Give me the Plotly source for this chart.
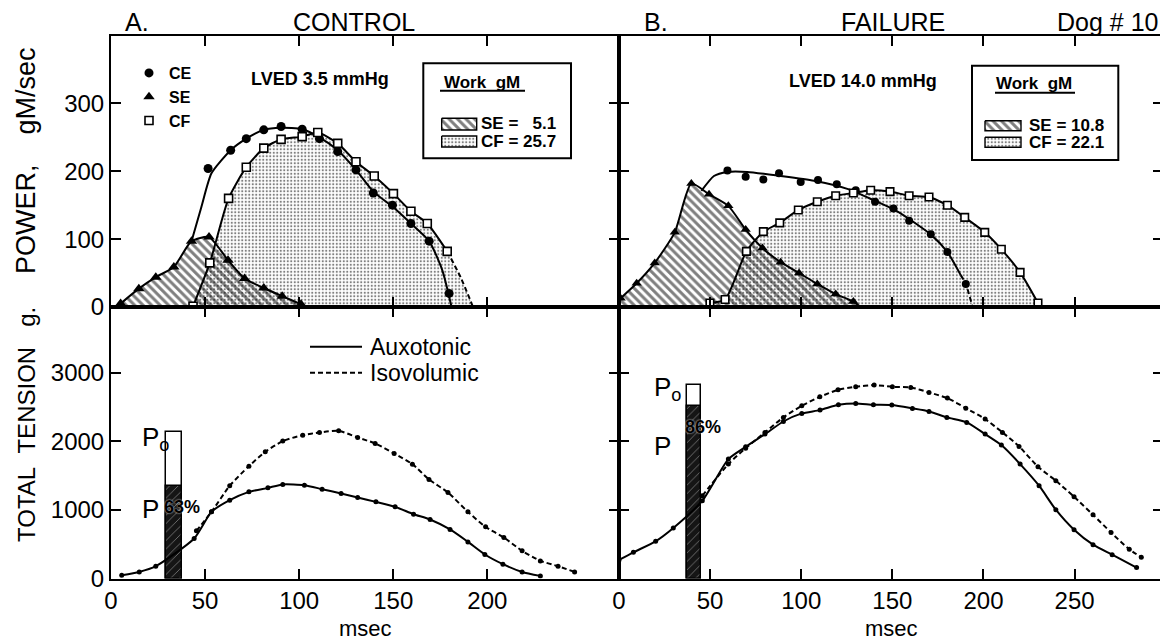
import plotly.graph_objects as go

# The page adds an 8 px body margin, so the figure is drawn 8 px smaller and all
# reference-pixel positions are shifted by that offset.
OFF = 8
W, H = 1168 - OFF, 642 - OFF
FONT = "Liberation Sans, Arial, sans-serif"

# ------------------------------------------------------------------ data
# A. CONTROL - power (gM/sec) vs time (msec)
ce_a_t = [51.6, 63.6, 71.9, 81.2, 90.4, 101.6, 110.8, 120.5, 130.2, 139.4, 149.6, 159.4, 169.1, 179.7]
ce_a_p = [204, 231, 248, 261, 266, 262, 248, 229, 202, 168, 150, 123, 97, 20]
ce_a_curve_t = [42.8, 48.0, 53.4, 63.6, 71.9, 81.2, 90.4, 101.6, 110.8, 120.5, 130.2, 139.4, 149.6, 159.4, 169.1, 176.1, 181.0]
ce_a_curve_p = [97, 147, 197, 231, 248, 261, 264, 262, 250, 231, 202, 170, 148, 123, 97, 54, 0]
se_a_t = [5.1, 14.8, 23.8, 33.4, 42.8, 52.1, 62.2, 71.0, 81.2, 91.0, 101.0]
se_a_p = [5, 27, 44, 59, 97, 103, 69, 42, 28, 16, 4]
cf_a_t = [43.6, 52.5, 62.5, 71.9, 81.2, 90.4, 101.6, 109.9, 120.5, 130.2, 139.9, 150.1, 159.4, 168.1, 178.7]
cf_a_p = [1, 65, 160, 206, 234, 247, 251, 257, 241, 214, 193, 167, 141, 123, 82]
cf_a_tail_t = [178.7, 185.8, 192.4]
cf_a_tail_p = [82, 44, 0]

# B. FAILURE - power (gM/sec) vs time (msec)
ce_b_t = [59.5, 69.5, 79.2, 87.8, 99.7, 109.2, 119.5, 129.9, 140.5, 150.6, 159.2, 171.1, 180.2, 190.3]
ce_b_p = [201, 192, 188, 197, 184, 187, 181, 172, 155, 145, 127, 107, 81, 34]
ce_b_curve_t = [45.2, 52.1, 59.5, 70.4, 88.7, 107.0, 125.3, 140.0, 152.7, 171.0, 180.2, 187.5]
ce_b_curve_p = [171, 193, 199, 199, 193, 186, 174, 157, 141, 107, 81, 47]
ce_b_tail_t = [187.5, 190.3, 194.0]
ce_b_tail_p = [47, 34, 0]
se_b_t = [0.9, 9.7, 19.6, 30.6, 39.7, 49.4, 60.0, 69.5, 78.7, 88.7, 98.8, 108.8, 118.9, 128.6, 132.6]
se_b_p = [13, 35, 65, 110, 182, 166, 149, 114, 87, 66, 50, 34, 19, 8, 0]
cf_b_t = [49.9, 58.2, 69.9, 79.2, 88.2, 98.4, 108.8, 118.9, 128.6, 138.1, 148.7, 159.2, 170.1, 180.2, 189.7, 200.7, 209.8, 220.1, 229.9]
cf_b_p = [6, 11, 82, 111, 124, 143, 155, 164, 168, 172, 170, 164, 162, 150, 132, 110, 85, 51, 6]

# work (gM) key values
work_a = {"SE": "5.1", "CF": "25.7"}
work_b = {"SE": "10.8", "CF": "22.1"}
lved_a = "LVED 3.5 mmHg"
lved_b = "LVED 14.0 mmHg"

# total tension (g) vs time (msec)
aux_a_t = [5.7, 15.0, 23.8, 44.2, 53.4, 63.1, 73.3, 83.4, 91.3, 102.8, 112.2, 122.3, 131.1, 140.8, 151.0,
           160.8, 169.6, 180.2, 189.7, 198.7, 208.3, 218.5, 228.2]
aux_a_f = [48, 96, 180, 584, 972, 1143, 1264, 1322, 1372, 1361, 1303, 1240, 1182, 1118, 1045,
           938, 861, 715, 534, 350, 209, 96, 38]
iso_a_t = [45.4, 53.4, 63.1, 73.3, 82.0, 91.3, 101.9, 110.8, 121.0, 131.1, 140.4, 150.5, 160.2, 169.0,
           179.1, 189.7, 199.1, 208.8, 218.5, 228.2, 237.6, 246.4]
iso_a_f = [695, 972, 1352, 1639, 1848, 2004, 2091, 2130, 2154, 2057, 1970, 1824, 1668, 1445,
           1255, 972, 753, 598, 403, 257, 180, 96]
aux_b_t = [0, 7.9, 20.1, 29.8, 45.7, 60.0, 69.5, 80.1, 90.2, 100.3, 110.3, 120.4, 129.9, 139.6, 149.7,
           161.0, 170.1, 179.9, 190.8, 200.9, 209.8, 220.1, 230.5, 239.7, 249.7, 260.1, 270.6, 284.0]
aux_b_f = [270, 382, 542, 736, 1134, 1742, 1921, 2106, 2290, 2408, 2456, 2534, 2554, 2534, 2529,
           2481, 2437, 2350, 2277, 2106, 1946, 1669, 1353, 1003, 711, 493, 347, 160]
iso_b_t = [45.7, 60.0, 69.5, 80.1, 90.2, 100.3, 110.2, 120.2, 129.9, 140.0, 150.0, 160.1, 170.1, 180.2,
           190.3, 200.9, 210.4, 219.5, 229.9, 239.7, 249.7, 260.1, 270.0, 280.0, 286.6]
iso_b_f = [1207, 1669, 1900, 2131, 2350, 2519, 2650, 2752, 2796, 2821, 2796, 2787, 2714, 2631,
           2485, 2325, 2131, 1927, 1630, 1426, 1192, 930, 670, 425, 309]

# Po / P bars
bar_a = {"t": 33.3, "Po": 2140, "P": 1347, "pct": "63%"}
bar_b = {"t": 41.2, "Po": 2820, "P": 2520, "pct": "86%"}

# ------------------------------------------------------------------ layout frames (reference pixels)
XA = (111, 619, 270.0)      # left px, right px, x range max
XB = (619, 1163, 298.5)
YT = (307, 35.5, 400.0)     # bottom px, top px, y range max
YBm = (578.5, 307, 3960.0)


def PX(px):
    return (px - OFF) / W


def PY(py):
    return 1 - (py - OFF) / H


def dom_x(f):
    return [PX(f[0]), PX(f[1])]


def dom_y(f):
    return [PY(f[0]), PY(f[1])]


def px2x(px, f):
    return (px - f[0]) / (f[1] - f[0]) * f[2]


def py2y(py, f):
    return (f[0] - py) / (f[0] - f[1]) * f[2]


fig = go.Figure()

SPL = dict(shape="spline", smoothing=0.6)
DOTS = dict(shape=".", fgcolor="black", bgcolor="rgba(0,0,0,0)", size=3.5, solidity=0.3)
HATCH = dict(shape="\\", fgcolor="black", bgcolor="rgba(0,0,0,0)", size=6, solidity=0.5)


def fill_trace(t, p, pat, xa, ya):
    fig.add_trace(go.Scatter(x=t, y=p, mode="lines", line=dict(width=0, **SPL), fill="tozeroy",
                             fillcolor="rgba(0,0,0,0)", fillpattern=pat, xaxis=xa, yaxis=ya,
                             showlegend=False, hoverinfo="skip"))


def line_trace(t, p, xa, ya, dash="solid", width=2):
    fig.add_trace(go.Scatter(x=t, y=p, mode="lines", line=dict(color="black", width=width, dash=dash, **SPL),
                             xaxis=xa, yaxis=ya, showlegend=False, hoverinfo="skip"))


def marker_trace(t, p, xa, ya, symbol, size, name=None, open_=False, legend=False):
    fig.add_trace(go.Scatter(x=t, y=p, mode="markers", name=name, xaxis=xa, yaxis=ya,
                             marker=dict(symbol=symbol, size=size,
                                         color="white" if open_ else "black",
                                         line=dict(color="black", width=1.6 if open_ else 0)),
                             showlegend=legend, legend="legend"))


# ---- panel A power
fill_trace(cf_a_t + cf_a_tail_t[1:], cf_a_p + cf_a_tail_p[1:], DOTS, "x", "y")
fill_trace(se_a_t, se_a_p, HATCH, "x", "y")
line_trace(ce_a_curve_t, ce_a_curve_p, "x", "y")
line_trace(se_a_t, se_a_p, "x", "y")
line_trace(cf_a_t, cf_a_p, "x", "y")
line_trace(cf_a_tail_t, cf_a_tail_p, "x", "y", dash="5px,3px")
marker_trace(ce_a_t, ce_a_p, "x", "y", "circle", 9, name="CE", legend=True)
marker_trace(se_a_t, se_a_p, "x", "y", "triangle-up", 10, name="SE", legend=True)
marker_trace(cf_a_t, cf_a_p, "x", "y", "square", 8, name="CF", open_=True, legend=True)

# ---- panel B power
fill_trace(cf_b_t, cf_b_p, DOTS, "x2", "y2")
fill_trace(se_b_t, se_b_p, HATCH, "x2", "y2")
line_trace(ce_b_curve_t, ce_b_curve_p, "x2", "y2")
line_trace(ce_b_tail_t, ce_b_tail_p, "x2", "y2", dash="5px,3px")
line_trace(se_b_t, se_b_p, "x2", "y2")
line_trace(cf_b_t, cf_b_p, "x2", "y2")
marker_trace(ce_b_t, ce_b_p, "x2", "y2", "circle", 8)
marker_trace(se_b_t[:-1], se_b_p[:-1], "x2", "y2", "triangle-up", 9)
marker_trace(cf_b_t, cf_b_p, "x2", "y2", "square", 7.5, open_=True)


# ---- work keys (legend swatches)
def swatch(px0, px1, py0, py1, pat, xa, ya, fx):
    xs = [px2x(v, fx) for v in (px0, px1, px1, px0, px0)]
    ys = [py2y(v, YT) for v in (py0, py0, py1, py1, py0)]
    fig.add_trace(go.Scatter(x=xs, y=ys, mode="lines", fill="toself", fillcolor="rgba(0,0,0,0)",
                             fillpattern=pat, line=dict(color="black", width=1.4), xaxis=xa, yaxis=ya,
                             showlegend=False, hoverinfo="skip"))


swatch(441.7, 476.7, 118.3, 130, HATCH, "x", "y", XA)
swatch(441.7, 476.7, 136, 147, DOTS, "x", "y", XA)
swatch(985, 1021, 120.7, 130.7, HATCH, "x2", "y2", XB)
swatch(985, 1021, 137.3, 147.3, DOTS, "x2", "y2", XB)


# ---- tension panels
def tension(t, f, xa, ya, dash):
    fig.add_trace(go.Scatter(x=t, y=f, mode="lines+markers", xaxis=xa, yaxis=ya,
                             line=dict(color="black", width=2, dash=dash, **SPL),
                             marker=dict(color="black", size=5), showlegend=False, hoverinfo="skip"))


DASH = "5px,3px"
tension(aux_a_t, aux_a_f, "x3", "y3", "solid")
tension(iso_a_t, iso_a_f, "x3", "y3", DASH)
tension(aux_b_t, aux_b_f, "x4", "y4", "solid")
tension(iso_b_t, iso_b_f, "x4", "y4", DASH)


def bars(b, width, xa, ya):
    fig.add_trace(go.Bar(x=[b["t"]], y=[b["Po"]], width=width, xaxis=xa, yaxis=ya,
                         marker=dict(color="white", line=dict(color="black", width=1.5)),
                         showlegend=False, hoverinfo="skip"))
    fig.add_trace(go.Bar(x=[b["t"]], y=[b["P"]], width=width, xaxis=xa, yaxis=ya,
                         marker=dict(color="#151515", line=dict(color="black", width=1.5),
                                     pattern=dict(shape="/", fgcolor="white", bgcolor="#151515",
                                                  size=6, solidity=0.12)),
                         showlegend=False, hoverinfo="skip"))


bars(bar_a, 8.4, "x3", "y3")
bars(bar_b, 8.0, "x4", "y4")


# ------------------------------------------------------------------ axes
def axis(domain, rng, tickvals, labels, anchor):
    return dict(domain=domain, range=rng, anchor=anchor, tickvals=tickvals,
                showticklabels=labels, ticks="inside", ticklen=10, tickwidth=2, tickcolor="black",
                showline=True, linewidth=2, linecolor="black", mirror="ticks",
                showgrid=False, zeroline=False, fixedrange=True, automargin=False,
                tickfont=dict(family=FONT, size=24, color="black"))


layout = dict(
    width=W, height=H, margin=dict(l=0, r=0, t=0, b=0, autoexpand=False),
    paper_bgcolor="white", plot_bgcolor="white", barmode="overlay", bargap=0,
    font=dict(family=FONT, color="black"),
    xaxis=axis(dom_x(XA), [0, XA[2]], [50, 100, 150, 200], False, "y"),
    yaxis=axis(dom_y(YT), [0, YT[2]], [0, 100, 200, 300], True, "x"),
    xaxis2=axis(dom_x(XB), [0, XB[2]], [50, 100, 150, 200, 250], False, "y2"),
    yaxis2=axis(dom_y(YT), [0, YT[2]], [100, 200, 300], False, "x2"),
    xaxis3=axis(dom_x(XA), [0, XA[2]], [0, 50, 100, 150, 200], True, "y3"),
    yaxis3=axis(dom_y(YBm), [0, YBm[2]], [0, 1000, 2000, 3000], True, "x3"),
    xaxis4=axis(dom_x(XB), [0, XB[2]], [0, 50, 100, 150, 200, 250], True, "y4"),
    yaxis4=axis(dom_y(YBm), [0, YBm[2]], [1000, 2000, 3000], False, "x4"),
    legend=dict(x=PX(129), y=PY(56), xanchor="left", yanchor="top", bgcolor="rgba(0,0,0,0)",
                borderwidth=0, itemwidth=30, tracegroupgap=0,
                font=dict(family=FONT, size=16, color="black", weight="bold")),
)

anns = []
shapes = []


def ann(text, px, py, size, bold=False, xanchor="center", yanchor="middle", angle=0, shadow=None):
    f = dict(family=FONT, size=size, color="black")
    if bold:
        f["weight"] = "bold"
    if shadow:
        f["shadow"] = shadow
    anns.append(dict(text=text, x=PX(px), y=PY(py), xref="paper", yref="paper", showarrow=False,
                     xanchor=xanchor, yanchor=yanchor, textangle=angle, font=f))


def hline(px0, px1, py, width=2, dash="solid"):
    shapes.append(dict(type="line", xref="paper", yref="paper", x0=PX(px0), x1=PX(px1),
                       y0=PY(py), y1=PY(py), line=dict(color="black", width=width, dash=dash)))


NB = "\u00a0"
ann("A.", 137, 22, 25)
ann("CONTROL", 354, 22, 25)
ann("B.", 656, 22, 25)
ann("FAILURE", 893, 22, 25)
ann("Dog # 10", 1160, 22, 25, xanchor="right")
ann("POWER," + NB * 4 + "gM/sec", 26, 161, 27, angle=-90)
ann("TOTAL" + NB * 2 + "TENSION" + NB * 3 + "g.", 26, 425, 24, angle=-90)
ann("msec", 365, 628, 22)
ann("msec", 891, 628, 22)

ann(lved_a, 320, 79, 18, bold=True)
ann(lved_b, 863, 81, 18, bold=True)

for (bx0, by0, bx1, by1, tx, ty, ul0, ul1, uly, kx, sy, cy, work) in [
        (423.3, 63.3, 571, 158.3, 481.7, 82.5, 440, 525, 90.7, 479, 124, 141.5, work_a),
        (972, 65.7, 1118.3, 160, 1034, 83, 995, 1075, 92.7, 1027, 126, 142.5, work_b)]:
    shapes.append(dict(type="rect", xref="paper", yref="paper", x0=PX(bx0), x1=PX(bx1),
                       y0=PY(by0), y1=PY(by1), line=dict(color="black", width=2)))
    hline(ul0, ul1, uly)
    ann("Work" + NB * 2 + "gM", tx, ty, 17, bold=True)
    pad = NB * (2 * (len(work["CF"]) - len(work["SE"])))
    ann("SE = " + pad + work["SE"], kx, sy, 17, bold=True, xanchor="left")
    ann("CF = " + work["CF"], kx, cy, 17, bold=True, xanchor="left")

# line-style key in the tension panel
hline(310, 362, 346.7, width=2)
hline(310, 362, 372.7, width=2, dash="5px,3px")
ann("Auxotonic", 368, 346.7, 23, xanchor="left")
ann("Isovolumic", 368, 372.7, 23, xanchor="left")

# Po / P labels
ann("P<sub>o</sub>", 140, 438, 26, xanchor="left")
ann("P", 140, 508.5, 26, xanchor="left")
ann(bar_a["pct"], 182, 507, 18, bold=True, shadow="0px 0px 2px white")
ann("P<sub>o</sub>", 651.7, 388, 26, xanchor="left")
ann("P", 651.7, 446, 26, xanchor="left")
ann(bar_b["pct"], 702.5, 427, 18, bold=True, shadow="0px 0px 2px white")

layout["annotations"] = anns
layout["shapes"] = shapes
fig.update_layout(**layout)

fig.write_html("out.html")
